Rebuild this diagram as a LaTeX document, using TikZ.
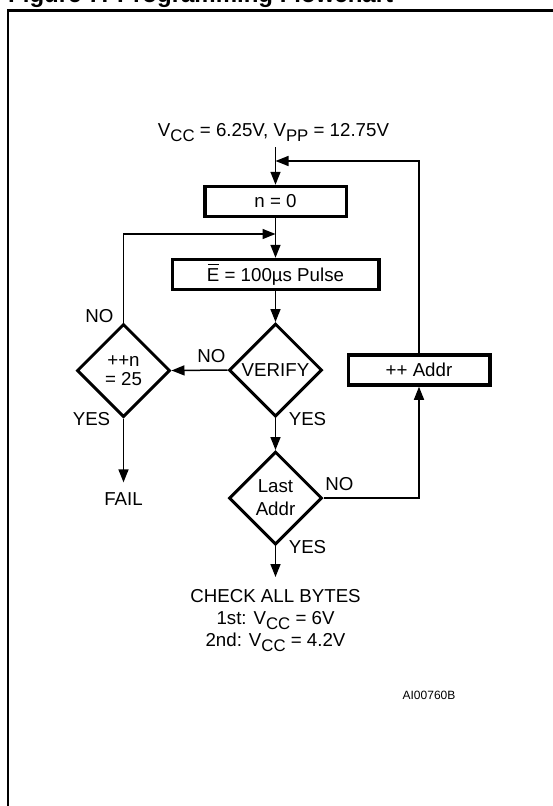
\documentclass[tikz,border=0pt]{standalone}
\usepackage{fontspec}
\setmainfont{Liberation Sans}
\usetikzlibrary{shapes.geometric,arrows.meta}
\newcommand\lsub[1]{\raisebox{-5pt}{\fontsize{16.8}{18}\selectfont #1}}
\newcommand\barE{\makebox[0pt][l]{\hspace{1pt}\rule[16.5pt]{11pt}{0.9pt}}E}
\tikzset{
  txt/.style={font=\fontsize{18.7}{22}\selectfont, inner sep=0pt, align=center},
  procbox/.style={draw, line width=3.5pt, minimum width=#1, minimum height=30pt, inner sep=0pt, txt},
  decision/.style={draw, diamond, aspect=1, line width=3pt, minimum size=93pt, inner sep=0pt, txt},
  conn/.style={line width=1.5pt, -{Triangle[length=13pt,width=10pt]}},
  framestyle/.style={line width=2.5pt},
}
\begin{document}
\begin{tikzpicture}[x=1pt,y=-1pt]
\useasboundingbox (0,0) rectangle (552,806);
% title and frame
\node[anchor=base west, inner sep=0pt, font=\bfseries\fontsize{24}{28}\selectfont] (title) at (8,2) {Figure 7. Programming Flowchart};
\draw[framestyle] (8,830) -- (8,10.7) -- (570,10.7);
% nodes
\node[txt, anchor=base] (vtop) at (273.5,136) {V\lsub{CC} = 6.25V, V\lsub{PP} = 12.75V};
\coordinate (start) at (275.5,147);
\coordinate (fbk) at (275.5,161);
\coordinate (lp) at (275.5,234);
\node[procbox=141.5pt] (n0) at (275.5,201.5) {n = 0};
\node[procbox=206.5pt] (epulse) at (275.5,274.5) {\barE{} = 100µs Pulse};
\node[decision] (verify) at (275.5,370) {VERIFY};
\node[decision, font=\fontsize{18.7}{19.5}\selectfont] (inc) at (123.5,370.5) {++n\\= 25};
\node[procbox=141.5pt] (addr) at (419,370) {++ Addr};
\node[decision, font=\fontsize{18.7}{23}\selectfont] (last) at (275.5,498) {Last\\Addr};
\node[txt, inner ysep=10.5pt] (fail) at (123.5,499.5) {FAIL};
\node[txt, anchor=north, inner ysep=12pt] (check) at (275.5,577)
  {CHECK ALL BYTES\\1st: V\lsub{CC} = 6V\\2nd: V\lsub{CC} = 4.2V};
% labels
\node[txt] (noA) at (99.5,316) {NO};
\node[txt] (noB) at (211.5,356) {NO};
\node[txt] (yesA) at (91.5,419.5) {YES};
\node[txt] (yesB) at (307.5,419) {YES};
\node[txt] (noC) at (339.5,484) {NO};
\node[txt] (yesC) at (307.5,547.5) {YES};
\node[inner sep=0pt, font=\fontsize{12}{14}\selectfont] (code) at (429,695) {AI00760B};
% connectors
\draw[conn] (start) -- (n0.north);
\draw[conn] (addr.north) |- (fbk);
\draw[conn] (n0.south) -- (epulse.north);
\draw[conn] (inc.north) |- (lp);
\draw[conn] (epulse.south) -- (verify.north);
\draw[conn] (verify.west) -- (inc.east);
\draw[conn] (verify.south) -- (last.north);
\draw[conn] (inc.south) -- (fail.north);
\draw[conn] (last.east) -| (addr.south);
\draw[conn] (last.south) -- (check.north);
\end{tikzpicture}
\end{document}
